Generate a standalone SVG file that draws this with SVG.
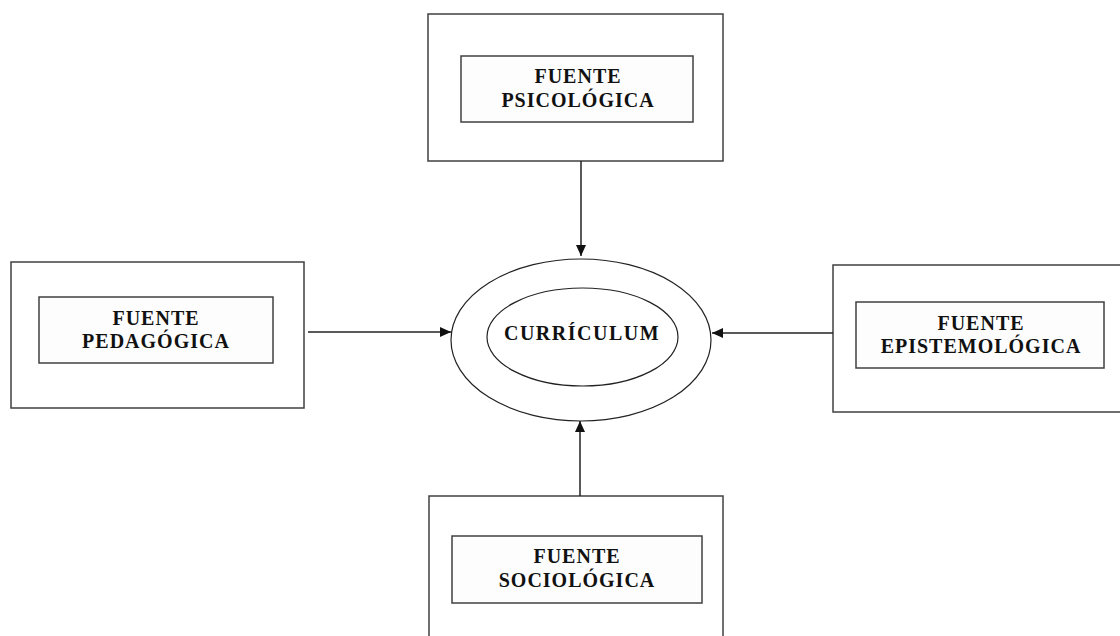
<svg xmlns="http://www.w3.org/2000/svg" width="1120" height="636" viewBox="0 0 1120 636">
<style>
.outer{fill:#fff;stroke:#404040;stroke-width:1.5}
.inner{fill:#fdfdfd;stroke:#404040;stroke-width:1.5}
.ell{fill:none;stroke:#222;stroke-width:1.2}
.lbl{font-family:"Liberation Serif","Times New Roman",serif;font-weight:bold;font-size:20px;fill:#111;text-anchor:middle;letter-spacing:1px}
.conn{stroke:#222;stroke-width:1.5;fill:none;marker-end:url(#ah)}
</style>
<defs>
<marker id="ah" markerWidth="12" markerHeight="10" refX="11" refY="5" orient="auto" markerUnits="userSpaceOnUse">
<path d="M0,0 L11,5 L0,10 Z" fill="#111"/>
</marker>
</defs>
<rect width="1120" height="636" fill="#fff"/>
<g id="fuente-psicologica">
<rect class="outer" x="428" y="14" width="295" height="147"/>
<rect class="inner" x="461" y="56" width="232" height="66"/>
<text class="lbl" x="578" y="83">FUENTE</text>
<text class="lbl" x="578" y="107">PSICOLÓGICA</text>
</g>
<g id="fuente-pedagogica">
<rect class="outer" x="11" y="262" width="293" height="146"/>
<rect class="inner" x="39" y="297" width="234" height="66"/>
<text class="lbl" x="156" y="325">FUENTE</text>
<text class="lbl" x="156" y="348">PEDAGÓGICA</text>
</g>
<g id="fuente-epistemologica">
<rect class="outer" x="833" y="265" width="300" height="147"/>
<rect class="inner" x="856" y="302" width="248" height="66"/>
<text class="lbl" x="981" y="330">FUENTE</text>
<text class="lbl" x="981" y="353">EPISTEMOLÓGICA</text>
</g>
<g id="fuente-sociologica">
<rect class="outer" x="429" y="496" width="294" height="160"/>
<rect class="inner" x="452" y="536" width="250" height="67"/>
<text class="lbl" x="577" y="563">FUENTE</text>
<text class="lbl" x="577" y="587">SOCIOLÓGICA</text>
</g>
<g id="curriculum">
<ellipse class="ell" cx="581" cy="340" rx="130" ry="81"/>
<ellipse class="ell" cx="582.5" cy="337" rx="95.5" ry="49"/>
<text class="lbl" x="582" y="340" style="letter-spacing:1.5px">CURRÍCULUM</text>
</g>
<g id="connectors">
<line class="conn" x1="581" y1="161" x2="581" y2="256"/>
<line class="conn" x1="308" y1="332" x2="451" y2="332"/>
<line class="conn" x1="833" y1="333" x2="712" y2="333"/>
<line class="conn" x1="580" y1="496" x2="580" y2="421"/>
</g>
</svg>
